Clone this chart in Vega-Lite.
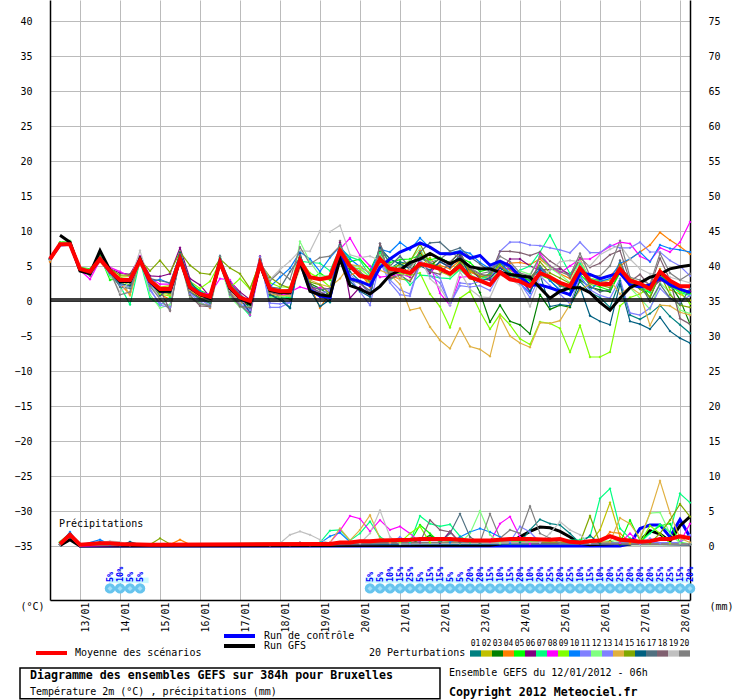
{
"$schema":"https://vega.github.io/schema/vega-lite/v6.json",
"width":640,"height":600,
"autosize":{"type":"none"},
"padding":{"left":50,"top":0,"right":50,"bottom":100},
"background":"white",
"title":{"text":"Diagramme des ensembles GEFS sur 384h pour Bruxelles","subtitle":"Température 2m (°C) , précipitations (mm)","orient":"bottom","anchor":"start","frame":"group","dx":-20,"offset":-29,"font":"DejaVu Sans Mono","fontSize":11.6,"fontWeight":"bold","color":"black","subtitleFont":"DejaVu Sans Mono","subtitleFontSize":10,"subtitleColor":"black","subtitlePadding":5},
"datasets":{
"t":[
{"h":0,"p1":5.9,"p2":6,"p3":6.1,"p4":5.6,"p5":6,"p6":6,"p7":6.1,"p8":5.9,"p9":6,"p10":6,"p11":5.9,"p12":6,"p13":6,"p14":5.8,"p15":6,"p16":5.9,"p17":6,"p18":6,"p19":5.9,"p20":6,"ctl":6,"moy":6},
{"h":6,"p1":8,"p2":8.1,"p3":8.3,"p4":8,"p5":8.4,"p6":8.1,"p7":8.2,"p8":8,"p9":8.3,"p10":8.2,"p11":8,"p12":8.3,"p13":8.1,"p14":8,"p15":8.2,"p16":8.1,"p17":8,"p18":8,"p19":8.1,"p20":8.2,"ctl":8,"gfs":9.4,"moy":8.1},
{"h":12,"p1":8.2,"p2":8,"p3":8.5,"p4":8,"p5":8.6,"p6":8.1,"p7":8.4,"p8":8.1,"p9":8.5,"p10":8.1,"p11":8,"p12":8.6,"p13":8,"p14":8.1,"p15":8.2,"p16":8,"p17":8.1,"p18":8.1,"p19":8,"p20":8.3,"ctl":8.1,"gfs":8.4,"moy":8.1},
{"h":18,"p1":4.5,"p2":4.6,"p3":4.7,"p4":4.4,"p5":4.8,"p6":4.6,"p7":4.5,"p8":4.4,"p9":4.7,"p10":4.6,"p11":4.5,"p12":4.7,"p13":4.5,"p14":4.4,"p15":4.6,"p16":4.5,"p17":4.6,"p18":4.6,"p19":4.5,"p20":4.7,"ctl":4.5,"gfs":4.3,"moy":4.6},
{"h":24,"p1":4,"p2":4.3,"p3":4.5,"p4":4,"p5":4.6,"p6":3.8,"p7":4.3,"p8":3.1,"p9":4.2,"p10":3.9,"p11":3.7,"p12":4.5,"p13":3.8,"p14":4.2,"p15":4.3,"p16":3.8,"p17":4,"p18":3.6,"p19":4,"p20":4.4,"ctl":4.1,"gfs":3.9,"moy":4.2},
{"h":30,"p1":6,"p2":6.3,"p3":6.5,"p4":5.6,"p5":6.4,"p6":6.2,"p7":6,"p8":5.8,"p9":6.3,"p10":6.1,"p11":5.8,"p12":6.2,"p13":5.9,"p14":6,"p15":6.2,"p16":5.9,"p17":6,"p18":5.9,"p19":6.1,"p20":6.3,"ctl":6,"gfs":7.2,"moy":6},
{"h":36,"p1":4,"p2":4.5,"p3":4.3,"p4":4,"p5":3,"p6":4.6,"p7":3.7,"p8":4.8,"p9":3.9,"p10":4.3,"p11":4,"p12":3.4,"p13":3.8,"p14":4.4,"p15":4.6,"p16":4,"p17":4.2,"p18":4.5,"p19":4.1,"p20":4.3,"ctl":4.2,"gfs":4.4,"moy":4.3},
{"h":42,"p1":2.6,"p2":3.4,"p3":3,"p4":2.5,"p5":3.3,"p6":4,"p7":2.2,"p8":4.2,"p9":3,"p10":3.1,"p11":2.4,"p12":2.6,"p13":2.3,"p14":3.3,"p15":3.7,"p16":2.5,"p17":2,"p18":2.9,"p19":1.2,"p20":0.9,"ctl":2.9,"gfs":2.8,"moy":3},
{"h":48,"p1":2.8,"p2":3.5,"p3":2.6,"p4":0.9,"p5":3,"p6":3.8,"p7":-0.5,"p8":3.5,"p9":2.2,"p10":3.2,"p11":2,"p12":1.9,"p13":2.1,"p14":0.8,"p15":3.7,"p16":2.2,"p17":1.8,"p18":2.6,"p19":2.9,"p20":1.3,"ctl":2.9,"gfs":2.8,"moy":3},
{"h":54,"p1":5.7,"p2":6,"p3":6.1,"p4":5.6,"p5":6.2,"p6":6.3,"p7":5.8,"p8":6.4,"p9":5.9,"p10":6,"p11":6,"p12":6.1,"p13":5.8,"p14":6,"p15":5.9,"p16":6.2,"p17":5.8,"p18":6.3,"p19":7.2,"p20":5.9,"ctl":5.8,"gfs":6,"moy":5.8},
{"h":60,"p1":3.1,"p2":3.3,"p3":2.6,"p4":2.8,"p5":3.4,"p6":3.6,"p7":0.4,"p8":3.3,"p9":2.2,"p10":2.7,"p11":1.5,"p12":0.9,"p13":1.8,"p14":3,"p15":4.3,"p16":2.4,"p17":3.2,"p18":2.9,"p19":2.5,"p20":2.1,"ctl":2.7,"gfs":2.8,"moy":2.9},
{"h":66,"p1":1.9,"p2":2,"p3":1.2,"p4":1,"p5":1.5,"p6":3.5,"p7":-0.6,"p8":2.4,"p9":1,"p10":3.1,"p11":-0.3,"p12":-1,"p13":-0.6,"p14":1.3,"p15":5.8,"p16":0.7,"p17":2.9,"p18":1.7,"p19":0.5,"p20":0.3,"ctl":1.4,"gfs":1.4,"moy":1.7},
{"h":72,"p1":1.6,"p2":2.2,"p3":1.1,"p4":0.2,"p5":0.9,"p6":3.9,"p7":0.5,"p8":2.4,"p9":0.7,"p10":2.5,"p11":-0.6,"p12":-0.5,"p13":-0.9,"p14":0.9,"p15":4.1,"p16":2.1,"p17":2.6,"p18":-1.4,"p19":0.2,"p20":-1.3,"ctl":1.4,"gfs":1.4,"moy":1.7},
{"h":78,"p1":6.8,"p2":6,"p3":6.5,"p4":5.8,"p5":6.4,"p6":7.6,"p7":6.2,"p8":6,"p9":6.2,"p10":6.6,"p11":5.9,"p12":5.8,"p13":6.1,"p14":6,"p15":7,"p16":6.9,"p17":6.5,"p18":6.7,"p19":5.8,"p20":6.3,"ctl":6,"gfs":6,"moy":6},
{"h":84,"p1":2.4,"p2":2,"p3":1.5,"p4":1.4,"p5":2.5,"p6":3.2,"p7":1.3,"p8":2,"p9":2.8,"p10":2.2,"p11":1,"p12":0.7,"p13":1.2,"p14":1.5,"p15":5.1,"p16":2.8,"p17":1.3,"p18":0.8,"p19":1.7,"p20":0.4,"ctl":1.9,"gfs":1.9,"moy":2},
{"h":90,"p1":0.7,"p2":1.2,"p3":0.4,"p4":0.7,"p5":1.5,"p6":2.3,"p7":0.2,"p8":1.2,"p9":1.8,"p10":1.4,"p11":-0.1,"p12":-0.3,"p13":0.2,"p14":0.8,"p15":4,"p16":1.1,"p17":0.3,"p18":-0.7,"p19":0.9,"p20":-0.4,"ctl":0.9,"gfs":0.9,"moy":1},
{"h":96,"p1":0.3,"p2":0.7,"p3":-0.2,"p4":-1,"p5":0.9,"p6":0.6,"p7":-0.3,"p8":1,"p9":2.8,"p10":0.5,"p11":-0.9,"p12":-0.8,"p13":-0.6,"p14":0.2,"p15":3.8,"p16":0.4,"p17":-0.3,"p18":-0.8,"p19":0.1,"p20":-0.7,"ctl":0.5,"gfs":0.4,"moy":0.6},
{"h":102,"p1":5.3,"p2":5.8,"p3":5.6,"p4":5.3,"p5":6.2,"p6":5.7,"p7":5.4,"p8":3.2,"p9":5.5,"p10":5.9,"p11":5.6,"p12":5.3,"p13":5.5,"p14":5.2,"p15":6,"p16":6.4,"p17":6.1,"p18":5.8,"p19":5.7,"p20":6.4,"ctl":5.5,"gfs":5.6,"moy":5.5},
{"h":108,"p1":2,"p2":2.4,"p3":1.6,"p4":1.4,"p5":2.2,"p6":2.8,"p7":1,"p8":3,"p9":1.9,"p10":1.8,"p11":0.8,"p12":0.6,"p13":1,"p14":2,"p15":4.7,"p16":1.4,"p17":2.6,"p18":1.2,"p19":1.5,"p20":0.9,"ctl":1.9,"gfs":1.8,"moy":2},
{"h":114,"p1":0.4,"p2":0.8,"p3":-0.1,"p4":-0.3,"p5":0.6,"p6":1.3,"p7":-0.5,"p8":0.9,"p9":3.2,"p10":0.7,"p11":-0.7,"p12":-0.9,"p13":-0.4,"p14":0.2,"p15":3.9,"p16":0.3,"p17":1,"p18":-0.8,"p19":-0.1,"p20":-0.6,"ctl":0.4,"gfs":0.4,"moy":0.5},
{"h":120,"p1":-1,"p2":-0.3,"p3":-0.6,"p4":-0.2,"p5":0,"p6":0.2,"p7":-2.1,"p8":-2,"p9":1.7,"p10":-0.2,"p11":-1.4,"p12":-0.8,"p13":-1.2,"p14":0.2,"p15":1.8,"p16":-1.6,"p17":-0.4,"p18":-0.9,"p19":-0.2,"p20":-1.8,"ctl":-0.1,"gfs":-0.4,"moy":0},
{"h":126,"p1":5.5,"p2":5.6,"p3":5,"p4":5.3,"p5":5.8,"p6":6.4,"p7":5.2,"p8":4.9,"p9":5.6,"p10":5.7,"p11":6.3,"p12":5.4,"p13":5.9,"p14":5.1,"p15":5.4,"p16":5.9,"p17":5.8,"p18":6.1,"p19":5.6,"p20":5.7,"ctl":5.3,"gfs":5.2,"moy":5.3},
{"h":132,"p1":1.4,"p2":2,"p3":0.9,"p4":1.2,"p5":1.6,"p6":1,"p7":0.6,"p8":2.3,"p9":2.6,"p10":2,"p11":-0.9,"p12":0.5,"p13":-0.3,"p14":1,"p15":3.4,"p16":0.9,"p17":2,"p18":1.3,"p19":3.1,"p20":2.9,"ctl":1.6,"gfs":1.5,"moy":1.7},
{"h":138,"p1":0.6,"p2":1.6,"p3":0.5,"p4":1.2,"p5":1.1,"p6":0.9,"p7":0.3,"p8":0.7,"p9":2,"p10":3.4,"p11":-0.9,"p12":0.6,"p13":-0.4,"p14":0.8,"p15":2.4,"p16":0.2,"p17":1.8,"p18":1,"p19":4.5,"p20":4.2,"ctl":1.3,"gfs":1.2,"moy":1.4},
{"h":144,"p1":-1,"p2":1.6,"p3":0.3,"p4":0.9,"p5":0.4,"p6":1,"p7":0.6,"p8":1.3,"p9":2,"p10":4.7,"p11":-0.2,"p12":0.8,"p13":-0.2,"p14":0.7,"p15":1.8,"p16":-1,"p17":4.2,"p18":1.8,"p19":5.7,"p20":3.1,"ctl":1.2,"gfs":1.2,"moy":1.4},
{"h":150,"p1":6.2,"p2":6.4,"p3":5.8,"p4":5.5,"p5":6.3,"p6":6.6,"p7":5.7,"p8":2,"p9":6,"p10":7,"p11":6,"p12":8.5,"p13":6.7,"p14":4.7,"p15":6.2,"p16":6.8,"p17":6.2,"p18":6.5,"p19":7.2,"p20":7.7,"ctl":5.6,"gfs":5.6,"moy":5.8},
{"h":156,"p1":2.3,"p2":3.4,"p3":2.5,"p4":2.3,"p5":3,"p6":2.4,"p7":5.5,"p8":1.6,"p9":4,"p10":6,"p11":1.6,"p12":5.6,"p13":1.8,"p14":3,"p15":2.7,"p16":1.6,"p17":2.2,"p18":1.9,"p19":7.1,"p20":5.3,"ctl":1.6,"gfs":1.4,"moy":3.4},
{"h":162,"p1":1,"p2":3,"p3":1.8,"p4":-1,"p5":4,"p6":0.6,"p7":5.4,"p8":1.9,"p9":3.2,"p10":4.2,"p11":0.8,"p12":3.6,"p13":1.2,"p14":2.4,"p15":2.3,"p16":-0.8,"p17":1.6,"p18":1.3,"p19":10,"p20":6.2,"ctl":0.7,"gfs":0.9,"moy":3.1},
{"h":168,"p1":-0.2,"p2":3.1,"p3":0.8,"p4":1.2,"p5":3,"p6":0.9,"p7":4.3,"p8":1.7,"p9":2,"p10":6.2,"p11":1.6,"p12":3.6,"p13":1.4,"p14":2,"p15":1,"p16":0.2,"p17":1.8,"p18":0.6,"p19":9.9,"p20":6.4,"ctl":0.5,"gfs":0.7,"moy":3.4},
{"h":174,"p1":7.6,"p2":6.8,"p3":7.2,"p4":6.6,"p5":7.7,"p6":8.4,"p7":7.6,"p8":7.4,"p9":7.1,"p10":7.8,"p11":6.5,"p12":7.5,"p13":6.6,"p14":3.2,"p15":7.3,"p16":8,"p17":7.2,"p18":8.6,"p19":10.8,"p20":7.9,"ctl":6.8,"gfs":6,"moy":7.2},
{"h":180,"p1":4.2,"p2":5,"p3":4.6,"p4":3.7,"p5":5.6,"p6":0.4,"p7":6.3,"p8":9,"p9":4.8,"p10":6,"p11":3.3,"p12":5.2,"p13":3.8,"p14":5.2,"p15":5,"p16":2.8,"p17":3,"p18":3.3,"p19":6.6,"p20":5.2,"ctl":3.2,"gfs":2.2,"moy":5},
{"h":186,"p1":2.8,"p2":3.6,"p3":4,"p4":4.2,"p5":6,"p6":2,"p7":5.8,"p8":6.5,"p9":4.6,"p10":4.9,"p11":1.3,"p12":4.8,"p13":2.6,"p14":5,"p15":3.8,"p16":1.4,"p17":2.5,"p18":2.6,"p19":6.2,"p20":4.2,"ctl":2.8,"gfs":1.7,"moy":3.6},
{"h":192,"p1":1,"p2":2.6,"p3":2.9,"p4":2,"p5":4.4,"p6":0.8,"p7":3.6,"p8":5,"p9":3.4,"p10":4,"p11":-0.6,"p12":3.4,"p13":0.9,"p14":4,"p15":2.8,"p16":0.6,"p17":1.5,"p18":1.2,"p19":6.4,"p20":3,"ctl":2.2,"gfs":1,"moy":3.3},
{"h":198,"p1":6.2,"p2":6,"p3":7,"p4":6.5,"p5":7.4,"p6":6.6,"p7":6.9,"p8":3.4,"p9":5.2,"p10":7.4,"p11":5.6,"p12":6.6,"p13":6,"p14":4.4,"p15":6.2,"p16":7.6,"p17":8.2,"p18":8.2,"p19":5.8,"p20":7.3,"ctl":4.8,"gfs":2.1,"moy":6},
{"h":204,"p1":4.6,"p2":5.1,"p3":4,"p4":3.7,"p5":5.5,"p6":3.3,"p7":3,"p8":3.6,"p9":4.3,"p10":7,"p11":2.6,"p12":4.8,"p13":3,"p14":3.8,"p15":4.6,"p16":6,"p17":5,"p18":3.2,"p19":4.9,"p20":4.1,"ctl":6,"gfs":3.7,"moy":4.6},
{"h":210,"p1":5.6,"p2":3.2,"p3":5.3,"p4":3.1,"p5":5.9,"p6":4.2,"p7":4,"p8":3.8,"p9":3.9,"p10":8.4,"p11":0.9,"p12":5,"p13":1.6,"p14":2.4,"p15":5.2,"p16":5.3,"p17":6.4,"p18":3.7,"p19":3,"p20":4.8,"ctl":7,"gfs":4.4,"moy":4.4},
{"h":216,"p1":5.2,"p2":2.9,"p3":3.8,"p4":4.8,"p5":6,"p6":3.4,"p7":2.3,"p8":3.5,"p9":3.7,"p10":7.3,"p11":0.7,"p12":5.8,"p13":1,"p14":-1.3,"p15":5.6,"p16":4.6,"p17":4.8,"p18":2.8,"p19":4.6,"p20":5,"ctl":7.6,"gfs":5.5,"moy":4},
{"h":222,"p1":6.2,"p2":4.9,"p3":6.9,"p4":7.2,"p5":6.5,"p6":5.9,"p7":3.7,"p8":5.5,"p9":4,"p10":9,"p11":5.4,"p12":7.5,"p13":5.8,"p14":-1,"p15":8.2,"p16":5,"p17":7,"p18":5.3,"p19":6.3,"p20":6.4,"ctl":8.3,"gfs":6,"moy":5.3},
{"h":228,"p1":5.4,"p2":6.2,"p3":5,"p4":4.8,"p5":5.9,"p6":4,"p7":3.6,"p8":5.2,"p9":1,"p10":7.6,"p11":4.4,"p12":4.9,"p13":3.6,"p14":-3.7,"p15":5.3,"p16":4.4,"p17":8.3,"p18":4.2,"p19":3.2,"p20":5.5,"ctl":7.7,"gfs":6.8,"moy":5},
{"h":234,"p1":4.8,"p2":4.2,"p3":6.1,"p4":5.1,"p5":6.2,"p6":5.6,"p7":3.3,"p8":1.1,"p9":-0.8,"p10":6.8,"p11":3.3,"p12":4.6,"p13":2.6,"p14":-5.6,"p15":4.9,"p16":5.6,"p17":8.4,"p18":3.8,"p19":1.9,"p20":6,"ctl":6.8,"gfs":6,"moy":4.6},
{"h":240,"p1":4,"p2":3.6,"p3":5.5,"p4":4.6,"p5":5.4,"p6":4.9,"p7":3.2,"p8":-0.6,"p9":-3.8,"p10":6.9,"p11":-0.6,"p12":3.5,"p13":-0.4,"p14":-6.8,"p15":4,"p16":4.8,"p17":7.1,"p18":5.6,"p19":-0.5,"p20":7,"ctl":6.7,"gfs":5.3,"moy":3.9},
{"h":246,"p1":5.5,"p2":4.5,"p3":7,"p4":5.8,"p5":6.2,"p6":6.4,"p7":4.5,"p8":3.4,"p9":0.4,"p10":7.2,"p11":2.6,"p12":4.8,"p13":2.2,"p14":-3.9,"p15":5.6,"p16":6.6,"p17":7.6,"p18":6.8,"p19":4.2,"p20":6.2,"ctl":7,"gfs":6,"moy":5},
{"h":252,"p1":3.6,"p2":4.3,"p3":4,"p4":4.1,"p5":5.5,"p6":4.6,"p7":3.2,"p8":3.5,"p9":1.4,"p10":6.8,"p11":2.4,"p12":3.8,"p13":2,"p14":-6.5,"p15":4.5,"p16":3.5,"p17":6.3,"p18":4.6,"p19":1.7,"p20":4.8,"ctl":6.1,"gfs":4.9,"moy":3.4},
{"h":258,"p1":3,"p2":3.4,"p3":1.2,"p4":3.6,"p5":4.2,"p6":3.2,"p7":3.1,"p8":3,"p9":-1.5,"p10":5.5,"p11":2.8,"p12":3.1,"p13":2.2,"p14":-6.9,"p15":3.5,"p16":2.8,"p17":5.3,"p18":3.8,"p19":0.6,"p20":3.9,"ctl":6.5,"gfs":4.6,"moy":2.9},
{"h":264,"p1":4,"p2":3.6,"p3":-3,"p4":3.2,"p5":4.6,"p6":3,"p7":3.8,"p8":3.4,"p9":-4,"p10":4.6,"p11":2.3,"p12":3.3,"p13":1.5,"p14":-7.9,"p15":3.8,"p16":3.3,"p17":4.2,"p18":3.6,"p19":0.5,"p20":4.2,"ctl":5.1,"gfs":4.6,"moy":2.3},
{"h":270,"p1":5.5,"p2":5,"p3":-0.6,"p4":4.8,"p5":4.9,"p6":4.2,"p7":4.2,"p8":4.8,"p9":-1.9,"p10":5.6,"p11":7.1,"p12":4,"p13":4,"p14":-2.2,"p15":5.2,"p16":4.7,"p17":5.6,"p18":7.1,"p19":3.7,"p20":6.4,"ctl":5.7,"gfs":4.1,"moy":4.1},
{"h":276,"p1":4,"p2":4.4,"p3":-2.9,"p4":5.4,"p5":4,"p6":6,"p7":3.5,"p8":4.6,"p9":-3.4,"p10":3.9,"p11":8.4,"p12":3.1,"p13":3.4,"p14":-5,"p15":3.7,"p16":3.8,"p17":4.6,"p18":7.1,"p19":3.2,"p20":5.6,"ctl":5,"gfs":3.8,"moy":3.1},
{"h":282,"p1":3.2,"p2":3.6,"p3":-3.4,"p4":5.5,"p5":3.8,"p6":6,"p7":4.4,"p8":3.2,"p9":-5.4,"p10":2.5,"p11":8.4,"p12":4.3,"p13":2.6,"p14":-6,"p15":3.2,"p16":3.3,"p17":3.6,"p18":6.9,"p19":2.2,"p20":4,"ctl":3.5,"gfs":3.6,"moy":2.8},
{"h":288,"p1":3,"p2":3.3,"p3":-4.7,"p4":5.2,"p5":2.8,"p6":5,"p7":5,"p8":1.2,"p9":-6.2,"p10":1.1,"p11":8,"p12":3.8,"p13":0.5,"p14":-6.6,"p15":2.4,"p16":1.4,"p17":3.2,"p18":6.5,"p19":-0.8,"p20":3.6,"ctl":2.3,"gfs":3.4,"moy":2.1},
{"h":294,"p1":4.6,"p2":5,"p3":0.9,"p4":6,"p5":3.7,"p6":4.4,"p7":7,"p8":6.8,"p9":-3,"p10":4.9,"p11":7.9,"p12":6.4,"p13":3.6,"p14":-3.1,"p15":5.6,"p16":3.8,"p17":5,"p18":7,"p19":3.2,"p20":6.4,"ctl":2.3,"gfs":1.9,"moy":4},
{"h":300,"p1":2.9,"p2":3.6,"p3":-1.2,"p4":4.8,"p5":3.1,"p6":4.5,"p7":9.4,"p8":5,"p9":-3.2,"p10":2.9,"p11":7.6,"p12":4.7,"p13":2.2,"p14":-3.2,"p15":4,"p16":-0.8,"p17":3.4,"p18":5.7,"p19":4.4,"p20":5,"ctl":1.9,"gfs":0.4,"moy":3.4},
{"h":306,"p1":1.5,"p2":2.7,"p3":-0.6,"p4":3.9,"p5":2.3,"p6":4.6,"p7":6.6,"p8":4,"p9":-3.9,"p10":1.6,"p11":7.3,"p12":3.8,"p13":1,"p14":-2.8,"p15":3.3,"p16":-0.5,"p17":2.1,"p18":4.8,"p19":5.6,"p20":4.2,"ctl":1.4,"gfs":1.4,"moy":2.6},
{"h":312,"p1":0.8,"p2":2.3,"p3":-0.9,"p4":3.2,"p5":1.6,"p6":3.8,"p7":3.9,"p8":5,"p9":-7.3,"p10":0.8,"p11":6.9,"p12":2.6,"p13":-0.4,"p14":-0.5,"p15":2.5,"p16":-0.7,"p17":1.8,"p18":3.4,"p19":5.8,"p20":3.6,"ctl":0.9,"gfs":1.9,"moy":2.1},
{"h":318,"p1":2.8,"p2":4.6,"p3":3,"p4":6,"p5":3.8,"p6":5.5,"p7":5.4,"p8":6,"p9":-3.5,"p10":3.6,"p11":8.4,"p12":5.7,"p13":3.4,"p14":1.6,"p15":4.8,"p16":2,"p17":4.7,"p18":6.2,"p19":5.6,"p20":6.8,"ctl":4,"gfs":1.9,"moy":4.7},
{"h":324,"p1":1.2,"p2":3.2,"p3":2,"p4":3,"p5":2.4,"p6":2.8,"p7":3.2,"p8":6,"p9":-8,"p10":1.6,"p11":6.9,"p12":3.2,"p13":1.6,"p14":2.4,"p15":2.6,"p16":-2.1,"p17":2.1,"p18":4.8,"p19":5,"p20":3.6,"ctl":3.8,"gfs":1.2,"moy":2.9},
{"h":330,"p1":0.5,"p2":3,"p3":1.6,"p4":3,"p5":2,"p6":2.8,"p7":2.9,"p8":6.9,"p9":-8,"p10":2.8,"p11":6.9,"p12":2.6,"p13":0.8,"p14":2.6,"p15":2.3,"p16":-2.9,"p17":1.3,"p18":5.4,"p19":6.6,"p20":3.6,"ctl":3.2,"gfs":-0.2,"moy":2.4},
{"h":336,"p1":-0.9,"p2":2.4,"p3":1.3,"p4":3.6,"p5":1.5,"p6":2.6,"p7":3,"p8":7.8,"p9":-7.3,"p10":3.2,"p11":8,"p12":2.2,"p13":0.4,"p14":3,"p15":1.9,"p16":-3.4,"p17":1.6,"p18":6.6,"p19":7.4,"p20":5,"ctl":3.6,"gfs":-1.3,"moy":2.4},
{"h":342,"p1":2.9,"p2":4.8,"p3":4.3,"p4":5,"p5":4,"p6":4.6,"p7":4.2,"p8":8.4,"p9":-0.7,"p10":5.4,"p11":7.6,"p12":4.8,"p13":3.2,"p14":1,"p15":5.2,"p16":2.4,"p17":5.8,"p18":7.2,"p19":8,"p20":8.6,"ctl":4,"gfs":0.4,"moy":4.6},
{"h":348,"p1":-2,"p2":3.3,"p3":2.4,"p4":6,"p5":2.4,"p6":2.8,"p7":2.6,"p8":8.2,"p9":0.5,"p10":6,"p11":7.6,"p12":1.9,"p13":-1.7,"p14":2,"p15":2.6,"p16":-2.9,"p17":2.2,"p18":2.8,"p19":6,"p20":3.4,"ctl":2.3,"gfs":1.9,"moy":2.9},
{"h":354,"p1":-2.6,"p2":2.6,"p3":2.4,"p4":7,"p5":1.8,"p6":2.4,"p7":2.1,"p8":6.4,"p9":1,"p10":7,"p11":8.4,"p12":0.4,"p13":-2,"p14":1,"p15":1.7,"p16":-3.3,"p17":2.5,"p18":3.8,"p19":4.6,"p20":3,"ctl":2,"gfs":2.6,"moy":2.5},
{"h":360,"p1":-1.8,"p2":1.6,"p3":0.5,"p4":8,"p5":1.2,"p6":1.7,"p7":1.3,"p8":5.7,"p9":2,"p10":5.6,"p11":7,"p12":-1.2,"p13":-1,"p14":-3.5,"p15":0.6,"p16":-4,"p17":-0.1,"p18":2.1,"p19":3.9,"p20":2.4,"ctl":2.3,"gfs":3.4,"moy":1.7},
{"h":366,"p1":-0.6,"p2":4.6,"p3":3.8,"p4":9.8,"p5":4.2,"p6":2.9,"p7":3.4,"p8":7.6,"p9":3.2,"p10":8,"p11":7,"p12":2.6,"p13":1.8,"p14":-0.6,"p15":3.8,"p16":-2.3,"p17":2.4,"p18":6.1,"p19":3.8,"p20":6.8,"ctl":3.3,"gfs":3.8,"moy":4.2},
{"h":372,"p1":-2.2,"p2":1.6,"p3":2.4,"p4":8.7,"p5":2,"p6":2.7,"p7":2.2,"p8":7,"p9":2.2,"p10":7.5,"p11":5.8,"p12":1.2,"p13":0.4,"p14":-0.7,"p15":0.9,"p16":-4.3,"p17":0.4,"p18":3,"p19":3.4,"p20":4,"ctl":2.3,"gfs":4.6,"moy":2.9},
{"h":378,"p1":-3.4,"p2":1,"p3":0.2,"p4":7.8,"p5":1.4,"p6":1.6,"p7":1.2,"p8":8.4,"p9":1.4,"p10":7.3,"p11":5,"p12":-1.3,"p13":-0.1,"p14":-1.6,"p15":-0.6,"p16":-5.3,"p17":-0.5,"p18":-2.5,"p19":3,"p20":3,"ctl":1.7,"gfs":4.9,"moy":2.1},
{"h":384,"p1":-4.6,"p2":0.1,"p3":-3.3,"p4":6.7,"p5":1,"p6":1.4,"p7":0.8,"p8":11.3,"p9":-0.4,"p10":7,"p11":3.6,"p12":-1.8,"p13":0.8,"p14":-2,"p15":-0.9,"p16":-6,"p17":1.8,"p18":-3.3,"p19":2.6,"p20":3.9,"ctl":1.2,"gfs":5.1,"moy":2.1}
],
"p":[
{"s":"p1","h":6,"v":0.2},{"s":"p1","h":12,"v":1.5},{"s":"p1","h":18,"v":0.1},{"s":"p1","h":30,"v":0.6},{"s":"p1","h":42,"v":0.1},{"s":"p1","h":282,"v":0.5},{"s":"p1","h":288,"v":2.3},{"s":"p1","h":294,"v":3.8},{"s":"p1","h":300,"v":3.2},{"s":"p1","h":306,"v":3},{"s":"p1","h":312,"v":1.8},{"s":"p1","h":318,"v":0.4},{"s":"p1","h":384,"v":0.2},
{"s":"p2","h":6,"v":0.2},{"s":"p2","h":12,"v":1.4},{"s":"p2","h":18,"v":0.1},{"s":"p2","h":324,"v":0.5},{"s":"p2","h":330,"v":2.3},{"s":"p2","h":336,"v":6.2},{"s":"p2","h":342,"v":1.3},{"s":"p2","h":348,"v":0.4},{"s":"p2","h":384,"v":0.3},
{"s":"p3","h":6,"v":0.5},{"s":"p3","h":12,"v":1.8},{"s":"p3","h":18,"v":0.1},{"s":"p3","h":216,"v":0.3},{"s":"p3","h":228,"v":1.5},{"s":"p3","h":234,"v":0.8},{"s":"p3","h":330,"v":0.4},{"s":"p3","h":336,"v":0.7},{"s":"p3","h":342,"v":0.2},{"s":"p3","h":384,"v":0.2},
{"s":"p4","h":6,"v":0.2},{"s":"p4","h":12,"v":1.6},{"s":"p4","h":18,"v":0.1},{"s":"p4","h":72,"v":0.2},{"s":"p4","h":78,"v":0.9},{"s":"p4","h":84,"v":0.2},{"s":"p4","h":330,"v":0.4},{"s":"p4","h":336,"v":2},{"s":"p4","h":342,"v":1.8},{"s":"p4","h":348,"v":0.5},{"s":"p4","h":384,"v":0.2},
{"s":"p5","h":6,"v":0.6},{"s":"p5","h":12,"v":1.8},{"s":"p5","h":18,"v":0.1},{"s":"p5","h":216,"v":0.5},{"s":"p5","h":222,"v":3},{"s":"p5","h":228,"v":1.8},{"s":"p5","h":234,"v":0.5},{"s":"p5","h":252,"v":0.9},{"s":"p5","h":258,"v":0.4},{"s":"p5","h":342,"v":0.4},{"s":"p5","h":348,"v":3.7},{"s":"p5","h":354,"v":0.8},{"s":"p5","h":366,"v":2.9},{"s":"p5","h":372,"v":3.2},{"s":"p5","h":378,"v":0.5},{"s":"p5","h":384,"v":0.3},
{"s":"p6","h":6,"v":0.2},{"s":"p6","h":12,"v":1.5},{"s":"p6","h":18,"v":0.1},{"s":"p6","h":234,"v":0.4},{"s":"p6","h":240,"v":2.1},{"s":"p6","h":246,"v":0.5},{"s":"p6","h":384,"v":0.2},
{"s":"p7","h":6,"v":0.5},{"s":"p7","h":12,"v":1.7},{"s":"p7","h":18,"v":0.1},{"s":"p7","h":162,"v":0.5},{"s":"p7","h":168,"v":2.2},{"s":"p7","h":174,"v":2.3},{"s":"p7","h":180,"v":0.8},{"s":"p7","h":186,"v":1.8},{"s":"p7","h":192,"v":3.5},{"s":"p7","h":198,"v":1.3},{"s":"p7","h":204,"v":0.5},{"s":"p7","h":210,"v":0.3},{"s":"p7","h":216,"v":0.5},{"s":"p7","h":222,"v":4.3},{"s":"p7","h":228,"v":3.2},{"s":"p7","h":234,"v":2.8},{"s":"p7","h":240,"v":3.1},{"s":"p7","h":246,"v":1.4},{"s":"p7","h":252,"v":0.5},{"s":"p7","h":318,"v":0.9},{"s":"p7","h":324,"v":1.3},{"s":"p7","h":330,"v":6.8},{"s":"p7","h":336,"v":8.2},{"s":"p7","h":342,"v":2.5},{"s":"p7","h":348,"v":1.1},{"s":"p7","h":354,"v":0.5},{"s":"p7","h":360,"v":1.8},{"s":"p7","h":366,"v":3.1},{"s":"p7","h":372,"v":2},{"s":"p7","h":378,"v":7.5},{"s":"p7","h":384,"v":6.2},
{"s":"p8","h":6,"v":0.2},{"s":"p8","h":12,"v":1.4},{"s":"p8","h":18,"v":0},{"s":"p8","h":168,"v":0.5},{"s":"p8","h":174,"v":2.2},{"s":"p8","h":180,"v":4.3},{"s":"p8","h":186,"v":3.9},{"s":"p8","h":192,"v":2.1},{"s":"p8","h":198,"v":3.7},{"s":"p8","h":204,"v":2.3},{"s":"p8","h":210,"v":2.8},{"s":"p8","h":216,"v":1.8},{"s":"p8","h":222,"v":0.5},{"s":"p8","h":264,"v":0.6},{"s":"p8","h":270,"v":3.2},{"s":"p8","h":276,"v":4.2},{"s":"p8","h":282,"v":1.3},{"s":"p8","h":288,"v":0.3},{"s":"p8","h":342,"v":0.4},{"s":"p8","h":348,"v":1.8},{"s":"p8","h":354,"v":0.4},{"s":"p8","h":378,"v":0.5},{"s":"p8","h":384,"v":3.2},
{"s":"p9","h":6,"v":0.5},{"s":"p9","h":12,"v":1.6},{"s":"p9","h":18,"v":0.1},{"s":"p9","h":210,"v":0.5},{"s":"p9","h":216,"v":1.8},{"s":"p9","h":222,"v":2.8},{"s":"p9","h":228,"v":0.5},{"s":"p9","h":354,"v":0.4},{"s":"p9","h":360,"v":2.9},{"s":"p9","h":366,"v":1.8},{"s":"p9","h":372,"v":0.4},{"s":"p9","h":384,"v":0.3},
{"s":"p10","h":6,"v":0.3},{"s":"p10","h":12,"v":2},{"s":"p10","h":18,"v":0.1},{"s":"p10","h":30,"v":0.9},{"s":"p10","h":36,"v":0.2},{"s":"p10","h":162,"v":0.4},{"s":"p10","h":168,"v":1.4},{"s":"p10","h":174,"v":1.9},{"s":"p10","h":180,"v":0.6},{"s":"p10","h":240,"v":0.5},{"s":"p10","h":246,"v":1.3},{"s":"p10","h":252,"v":2},{"s":"p10","h":258,"v":2.5},{"s":"p10","h":264,"v":2},{"s":"p10","h":270,"v":1.3},{"s":"p10","h":276,"v":0.4},{"s":"p10","h":384,"v":0.2},
{"s":"p11","h":6,"v":0.2},{"s":"p11","h":12,"v":1.5},{"s":"p11","h":18,"v":0.1},{"s":"p11","h":204,"v":0.4},{"s":"p11","h":210,"v":1.3},{"s":"p11","h":216,"v":0.3},{"s":"p11","h":276,"v":0.6},{"s":"p11","h":282,"v":2.8},{"s":"p11","h":288,"v":2},{"s":"p11","h":294,"v":0.5},{"s":"p11","h":378,"v":0.5},{"s":"p11","h":384,"v":1.6},
{"s":"p12","h":6,"v":0.5},{"s":"p12","h":12,"v":1.7},{"s":"p12","h":18,"v":0.1},{"s":"p12","h":246,"v":0.4},{"s":"p12","h":252,"v":1.8},{"s":"p12","h":258,"v":5},{"s":"p12","h":264,"v":1.6},{"s":"p12","h":270,"v":0.4},{"s":"p12","h":354,"v":0.8},{"s":"p12","h":360,"v":4.7},{"s":"p12","h":366,"v":4.8},{"s":"p12","h":372,"v":1.8},{"s":"p12","h":378,"v":0.4},{"s":"p12","h":384,"v":0.3},
{"s":"p13","h":6,"v":0.2},{"s":"p13","h":12,"v":1.5},{"s":"p13","h":18,"v":0.1},{"s":"p13","h":354,"v":0.3},{"s":"p13","h":360,"v":1.1},{"s":"p13","h":366,"v":0.4},{"s":"p13","h":384,"v":0.3},
{"s":"p14","h":6,"v":0.2},{"s":"p14","h":12,"v":1.4},{"s":"p14","h":18,"v":0.1},{"s":"p14","h":168,"v":0.5},{"s":"p14","h":174,"v":2.5},{"s":"p14","h":180,"v":0.8},{"s":"p14","h":186,"v":2.3},{"s":"p14","h":192,"v":4.4},{"s":"p14","h":198,"v":1.1},{"s":"p14","h":204,"v":0.5},{"s":"p14","h":336,"v":0.6},{"s":"p14","h":342,"v":4},{"s":"p14","h":348,"v":3.2},{"s":"p14","h":354,"v":1.1},{"s":"p14","h":360,"v":4.7},{"s":"p14","h":366,"v":9.3},{"s":"p14","h":372,"v":4.7},{"s":"p14","h":378,"v":1.1},{"s":"p14","h":384,"v":0.5},
{"s":"p15","h":6,"v":0.3},{"s":"p15","h":12,"v":1.6},{"s":"p15","h":18,"v":0.1},{"s":"p15","h":60,"v":0.2},{"s":"p15","h":66,"v":1.1},{"s":"p15","h":72,"v":0.3},{"s":"p15","h":318,"v":0.5},{"s":"p15","h":324,"v":4.3},{"s":"p15","h":330,"v":0.4},{"s":"p15","h":360,"v":0.4},{"s":"p15","h":366,"v":1.8},{"s":"p15","h":372,"v":3.7},{"s":"p15","h":378,"v":6},{"s":"p15","h":384,"v":4.2},
{"s":"p16","h":6,"v":0.2},{"s":"p16","h":12,"v":1.5},{"s":"p16","h":18,"v":0.1},{"s":"p16","h":42,"v":0.1},{"s":"p16","h":48,"v":0.6},{"s":"p16","h":54,"v":0.2},{"s":"p16","h":318,"v":0.3},{"s":"p16","h":324,"v":1.5},{"s":"p16","h":330,"v":0.3},{"s":"p16","h":384,"v":0.2},
{"s":"p17","h":6,"v":0.2},{"s":"p17","h":12,"v":1.5},{"s":"p17","h":18,"v":0.1},{"s":"p17","h":234,"v":0.5},{"s":"p17","h":240,"v":1.8},{"s":"p17","h":246,"v":4.6},{"s":"p17","h":252,"v":1.3},{"s":"p17","h":258,"v":0.4},{"s":"p17","h":384,"v":0.2},
{"s":"p18","h":6,"v":0.2},{"s":"p18","h":12,"v":1.4},{"s":"p18","h":18,"v":0.1},{"s":"p18","h":144,"v":0.1},{"s":"p18","h":150,"v":0.5},{"s":"p18","h":156,"v":0.1},{"s":"p18","h":222,"v":0.5},{"s":"p18","h":228,"v":3.7},{"s":"p18","h":234,"v":2.3},{"s":"p18","h":240,"v":2},{"s":"p18","h":246,"v":0.5},{"s":"p18","h":384,"v":0.2},
{"s":"p19","h":6,"v":0.2},{"s":"p19","h":12,"v":1.4},{"s":"p19","h":18,"v":0.1},{"s":"p19","h":36,"v":0.7},{"s":"p19","h":42,"v":0.6},{"s":"p19","h":48,"v":0.1},{"s":"p19","h":132,"v":0.1},{"s":"p19","h":138,"v":0.4},{"s":"p19","h":144,"v":1.6},{"s":"p19","h":150,"v":2.1},{"s":"p19","h":156,"v":1.6},{"s":"p19","h":162,"v":0.9},{"s":"p19","h":168,"v":0.4},{"s":"p19","h":186,"v":0.4},{"s":"p19","h":192,"v":1.8},{"s":"p19","h":198,"v":5.1},{"s":"p19","h":204,"v":1.3},{"s":"p19","h":210,"v":0.3},{"s":"p19","h":294,"v":0.5},{"s":"p19","h":300,"v":1.8},{"s":"p19","h":306,"v":3.5},{"s":"p19","h":312,"v":2.3},{"s":"p19","h":318,"v":1.6},{"s":"p19","h":324,"v":0.4},{"s":"p19","h":384,"v":0.3},
{"s":"p20","h":6,"v":0.2},{"s":"p20","h":12,"v":1.5},{"s":"p20","h":18,"v":0.1},{"s":"p20","h":258,"v":0.5},{"s":"p20","h":264,"v":4.6},{"s":"p20","h":270,"v":1.1},{"s":"p20","h":276,"v":2.3},{"s":"p20","h":282,"v":1.8},{"s":"p20","h":288,"v":5.7},{"s":"p20","h":294,"v":1.8},{"s":"p20","h":300,"v":1.1},{"s":"p20","h":306,"v":0.4},{"s":"p20","h":384,"v":0.3},
{"s":"ctl","h":6,"v":0.1},{"s":"ctl","h":12,"v":1.5},{"s":"ctl","h":18,"v":0},{"s":"ctl","h":342,"v":0},{"s":"ctl","h":348,"v":0.3},{"s":"ctl","h":354,"v":2.5},{"s":"ctl","h":360,"v":3},{"s":"ctl","h":366,"v":3},{"s":"ctl","h":372,"v":1.3},{"s":"ctl","h":378,"v":3.8},{"s":"ctl","h":384,"v":1.3},
{"s":"gfs","h":6,"v":0.1},{"s":"gfs","h":12,"v":0.9},{"s":"gfs","h":18,"v":0},{"s":"gfs","h":264,"v":0.1},{"s":"gfs","h":276,"v":0.5},{"s":"gfs","h":282,"v":1.3},{"s":"gfs","h":288,"v":2.1},{"s":"gfs","h":294,"v":2.7},{"s":"gfs","h":300,"v":2.6},{"s":"gfs","h":306,"v":2.1},{"s":"gfs","h":312,"v":1.3},{"s":"gfs","h":318,"v":0.4},{"s":"gfs","h":324,"v":0.2},{"s":"gfs","h":342,"v":0.4},{"s":"gfs","h":348,"v":0.3},{"s":"gfs","h":354,"v":0.7},{"s":"gfs","h":360,"v":2.2},{"s":"gfs","h":366,"v":1.7},{"s":"gfs","h":372,"v":0.7},{"s":"gfs","h":378,"v":2.9},{"s":"gfs","h":384,"v":4.2},
{"s":"moy","h":6,"v":0.3},{"s":"moy","h":12,"v":1.6},{"s":"moy","h":18,"v":0.2},{"s":"moy","h":24,"v":0.3},{"s":"moy","h":30,"v":0.4},{"s":"moy","h":36,"v":0.4},{"s":"moy","h":42,"v":0.3},{"s":"moy","h":60,"v":0.2},{"s":"moy","h":162,"v":0.3},{"s":"moy","h":168,"v":0.3},{"s":"moy","h":174,"v":0.5},{"s":"moy","h":180,"v":0.5},{"s":"moy","h":186,"v":0.7},{"s":"moy","h":192,"v":0.7},{"s":"moy","h":198,"v":0.8},{"s":"moy","h":216,"v":0.9},{"s":"moy","h":222,"v":1},{"s":"moy","h":240,"v":1},{"s":"moy","h":252,"v":0.8},{"s":"moy","h":264,"v":0.8},{"s":"moy","h":276,"v":1},{"s":"moy","h":288,"v":1},{"s":"moy","h":300,"v":0.9},{"s":"moy","h":306,"v":1},{"s":"moy","h":312,"v":0.6},{"s":"moy","h":318,"v":0.5},{"s":"moy","h":324,"v":0.7},{"s":"moy","h":330,"v":0.8},{"s":"moy","h":336,"v":1.4},{"s":"moy","h":342,"v":0.9},{"s":"moy","h":348,"v":0.8},{"s":"moy","h":354,"v":0.6},{"s":"moy","h":360,"v":0.7},{"s":"moy","h":366,"v":1},{"s":"moy","h":372,"v":1},{"s":"moy","h":378,"v":1.4},{"s":"moy","h":384,"v":1.1}
],
"neige":[
{"h":36,"pct":"5%"},{"h":42,"pct":"10%"},{"h":48,"pct":"5%"},{"h":54,"pct":"5%"},
{"h":192,"pct":"5%"},{"h":198,"pct":"5%"},{"h":204,"pct":"10%"},{"h":210,"pct":"15%"},{"h":216,"pct":"25%"},{"h":222,"pct":"5%"},{"h":228,"pct":"15%"},{"h":234,"pct":"15%"},{"h":240,"pct":"5%"},{"h":246,"pct":"5%"},{"h":252,"pct":"20%"},{"h":258,"pct":"20%"},{"h":264,"pct":"15%"},{"h":270,"pct":"10%"},{"h":276,"pct":"15%"},{"h":282,"pct":"20%"},{"h":288,"pct":"10%"},{"h":294,"pct":"20%"},{"h":300,"pct":"25%"},{"h":306,"pct":"20%"},{"h":312,"pct":"25%"},{"h":318,"pct":"10%"},{"h":324,"pct":"15%"},{"h":330,"pct":"10%"},{"h":336,"pct":"20%"},{"h":342,"pct":"25%"},{"h":348,"pct":"20%"},{"h":354,"pct":"20%"},{"h":360,"pct":"20%"},{"h":366,"pct":"25%"},{"h":372,"pct":"25%"},{"h":378,"pct":"15%"},{"h":384,"pct":"20%"}
],
"membres":[{"s":"01"},{"s":"02"},{"s":"03"},{"s":"04"},{"s":"05"},{"s":"06"},{"s":"07"},{"s":"08"},{"s":"09"},{"s":"10"},{"s":"11"},{"s":"12"},{"s":"13"},{"s":"14"},{"s":"15"},{"s":"16"},{"s":"17"},{"s":"18"},{"s":"19"},{"s":"20"}]
},
"layer":[
{"data":{"name":"t"},
"transform":[{"fold":["p1","p2","p3","p4","p5","p6","p7","p8","p9","p10","p11","p12","p13","p14","p15","p16","p17","p18","p19","p20"],"as":["s","v"]}],
"mark":{"type":"line","strokeWidth":1.2,"point":{"filled":true,"size":8,"shape":"diamond"}},
"encoding":{
"x":{"field":"h","type":"quantitative","scale":{"domain":[0,384]},"title":null,
"axis":{"values":[18,42,66,90,114,138,162,186,210,234,258,282,306,330,354,378],"labelExpr":"timeFormat(datetime(2012,0,12,6+datum.value),'%d/%m')","labelAngle":-90,"labelBaseline":"top","labelAlign":"right","labelPadding":2,"labelFlush":false,"labelOverlap":false,"grid":true,"ticks":false,"domainColor":"black","domainWidth":1.5}},
"y":{"field":"v","type":"quantitative","scale":{"domain":[-42.71,43]},
"axis":{"orient":"left","values":[-35,-30,-25,-20,-15,-10,-5,0,5,10,15,20,25,30,35,40],"grid":true,"ticks":false,"labelPadding":18,"domainColor":"black","domainWidth":1.5,"title":"(°C)","titleAngle":0,"titleX":-18,"titleY":611,"titleAlign":"center","titleColor":"black","titleFont":"DejaVu Sans Mono","titleFontSize":10,"titleFontWeight":"normal"}},
"color":{"field":"s","type":"nominal","scale":{"domain":["p1","p2","p3","p4","p5","p6","p7","p8","p9","p10","p11","p12","p13","p14","p15","p16","p17","p18","p19","p20"],"range":["#008080","#c0c000","#008000","#ff8000","#00ff00","#800080","#00ff80","#ff00ff","#80ff00","#0080ff","#8080ff","#80ff80","#8080ff","#e0b040","#80a800","#006080","#507080","#806070","#c0c0c0","#808080"]},"legend":null}}},
{"data":{"name":"p"},
"transform":[{"filter":{"field":"s","oneOf":["ctl","gfs"]}}],
"mark":{"type":"line","strokeWidth":3},
"encoding":{
"x":{"field":"h","type":"quantitative","scale":{"domain":[0,384]},"axis":null},
"y":{"field":"v","type":"quantitative","scale":{"domain":[-7.71,78]},"axis":null},
"color":{"field":"s","type":"nominal","scale":{"domain":["ctl","gfs"],"range":["#0000ff","#000000"]},"legend":null}}},
{"data":{"name":"p"},
"transform":[{"filter":"datum.s[0]=='p'"}],
"mark":{"type":"line","strokeWidth":1.2,"point":{"filled":true,"size":8,"shape":"diamond"}},
"encoding":{
"x":{"field":"h","type":"quantitative","scale":{"domain":[0,384]},"axis":null},
"y":{"field":"v","type":"quantitative","scale":{"domain":[-7.71,78]},
"axis":{"orient":"right","values":[0,5,10,15,20,25,30,35,40,45,50,55,60,65,70,75],"grid":false,"ticks":false,"labelPadding":18,"domainColor":"black","domainWidth":1.5,"title":"(mm)","titleAngle":0,"titleX":31,"titleY":611,"titleAlign":"center","titleColor":"black","titleFont":"DejaVu Sans Mono","titleFontSize":10,"titleFontWeight":"normal"}},
"color":{"field":"s","type":"nominal","scale":{"domain":["p1","p2","p3","p4","p5","p6","p7","p8","p9","p10","p11","p12","p13","p14","p15","p16","p17","p18","p19","p20"],"range":["#008080","#c0c000","#008000","#ff8000","#00ff00","#800080","#00ff80","#ff00ff","#80ff00","#0080ff","#8080ff","#80ff80","#8080ff","#e0b040","#80a800","#006080","#507080","#806070","#c0c0c0","#808080"]},"legend":null}}},
{"data":{"values":[{"label":"zero"}]},
"mark":{"type":"rule","color":"black","strokeWidth":1.3},
"encoding":{"y":{"datum":0,"scale":{"domain":[-42.71,43]},"axis":null}}},
{"data":{"values":[{"label":"zero"}]},
"mark":{"type":"rule","color":"black","strokeWidth":1.3},
"encoding":{"y":{"datum":0.29,"scale":{"domain":[-42.71,43]},"axis":null}}},
{"data":{"name":"t"},
"transform":[{"fold":["ctl","gfs"],"as":["s","v"]}],
"mark":{"type":"line","strokeWidth":3},
"encoding":{
"x":{"field":"h","type":"quantitative","scale":{"domain":[0,384]},"axis":null},
"y":{"field":"v","type":"quantitative","scale":{"domain":[-42.71,43]},"axis":null},
"color":{"field":"s","type":"nominal","scale":{"domain":["ctl","gfs"],"range":["#0000ff","#000000"]},
"legend":{"orient":"none","legendX":172,"legendY":631,"title":null,"symbolType":"stroke","symbolSize":961,"symbolStrokeWidth":4,"clipHeight":10,"rowPadding":0,"labelFont":"DejaVu Sans Mono","labelFontSize":10,"labelOffset":7,"labelExpr":"datum.value=='ctl'?'Run de contrôle':'Run GFS'"}}}},
{"data":{"name":"t"},
"transform":[{"fold":["moy"],"as":["s","v"]}],
"mark":{"type":"line","strokeWidth":4},
"encoding":{
"x":{"field":"h","type":"quantitative","scale":{"domain":[0,384]},"axis":null},
"y":{"field":"v","type":"quantitative","scale":{"domain":[-42.71,43]},"axis":null},
"color":{"field":"s","type":"nominal","scale":{"domain":["moy"],"range":["#ff0000"]},
"legend":{"orient":"none","legendX":-16,"legendY":648,"title":null,"symbolType":"stroke","symbolSize":961,"symbolStrokeWidth":4,"clipHeight":10,"labelFont":"DejaVu Sans Mono","labelFontSize":10,"labelOffset":6,"labelExpr":"'Moyenne des scénarios'"}}}},
{"data":{"name":"p"},
"transform":[{"filter":"datum.s=='moy'"}],
"mark":{"type":"line","strokeWidth":4,"color":"#ff0000"},
"encoding":{
"x":{"field":"h","type":"quantitative","scale":{"domain":[0,384]},"axis":null},
"y":{"field":"v","type":"quantitative","scale":{"domain":[-7.71,78]},"axis":null}}},
{"data":{"name":"neige"},
"mark":{"type":"bar","width":10,"color":"#ccf8ff"},
"encoding":{
"x":{"field":"h","type":"quantitative","scale":{"domain":[0,384]},"axis":null},
"y":{"datum":-39.5,"scale":{"domain":[-42.71,43]},"axis":null},"y2":{"datum":-40.3}}},
{"data":{"name":"neige"},
"mark":{"type":"point","filled":true,"size":110,"color":"#66c4ee","opacity":1},
"encoding":{
"x":{"field":"h","type":"quantitative","scale":{"domain":[0,384]},"axis":null},
"y":{"datum":-41.05,"scale":{"domain":[-42.71,43]},"axis":null}}},
{"data":{"name":"neige"},
"mark":{"type":"point","shape":"diamond","filled":true,"size":25,"color":"#a4def6","opacity":1},
"encoding":{
"x":{"field":"h","type":"quantitative","scale":{"domain":[0,384]},"axis":null},
"y":{"datum":-41.05,"scale":{"domain":[-42.71,43]},"axis":null}}},
{"data":{"name":"neige"},
"mark":{"type":"text","angle":270,"align":"left","baseline":"middle","font":"DejaVu Sans Mono","fontSize":8.5,"fontWeight":"bold","color":"#0000ff","dx":-1},
"encoding":{
"x":{"field":"h","type":"quantitative","scale":{"domain":[0,384]},"axis":null},
"y":{"datum":-40,"scale":{"domain":[-42.71,43]},"axis":null},"text":{"field":"pct"}}},
{"data":{"values":[{"label":"Précipitations"}]},
"mark":{"type":"text","align":"left","font":"DejaVu Sans Mono","fontSize":10,"color":"black"},
"encoding":{"x":{"datum":5.4,"scale":{"domain":[0,384]},"axis":null},"y":{"datum":-31.85,"scale":{"domain":[-42.71,43]},"axis":null},"text":{"field":"label"}}},
{"data":{"values":[{"label":"20 Perturbations"}]},
"mark":{"type":"text","align":"left","font":"DejaVu Sans Mono","fontSize":10,"color":"black"},
"encoding":{"x":{"datum":191.4,"scale":{"domain":[0,384]},"axis":null},"y":{"datum":-50.35,"scale":{"domain":[-42.71,43]},"axis":null},"text":{"field":"label"}}},
{"data":{"name":"membres"},
"mark":{"type":"bar"},
"encoding":{"x":{"field":"s","type":"nominal","scale":{"range":[420,640],"paddingInner":0,"paddingOuter":0},"axis":null},
"y":{"datum":-49.9,"scale":{"domain":[-42.71,43]},"axis":null},"y2":{"datum":-50.8},
"color":{"field":"s","type":"nominal","scale":{"range":["#008080","#c0c000","#008000","#ff8000","#00ff00","#800080","#00ff80","#ff00ff","#80ff00","#0080ff","#8080ff","#80ff80","#8080ff","#e0b040","#80a800","#006080","#507080","#806070","#c0c0c0","#808080"]},"legend":null}}},
{"data":{"name":"membres"},
"mark":{"type":"text","font":"DejaVu Sans Mono","fontSize":8,"color":"black"},
"encoding":{"x":{"field":"s","type":"nominal","scale":{"range":[420,640],"paddingInner":0,"paddingOuter":0},"axis":null},
"y":{"datum":-49,"scale":{"domain":[-42.71,43]},"axis":null},"text":{"field":"s"}}},
{"data":{"values":[{"label":"Ensemble GEFS du 12/01/2012 - 06h"}]},
"mark":{"type":"text","align":"left","font":"DejaVu Sans Mono","fontSize":10,"color":"black"},
"encoding":{"x":{"datum":239.4,"scale":{"domain":[0,384]},"axis":null},"y":{"datum":-53.15,"scale":{"domain":[-42.71,43]},"axis":null},"text":{"field":"label"}}},
{"data":{"values":[{"label":"Copyright 2012 Meteociel.fr"}]},
"mark":{"type":"text","align":"left","font":"DejaVu Sans Mono","fontSize":11.6,"fontWeight":"bold","color":"black"},
"encoding":{"x":{"datum":239.4,"scale":{"domain":[0,384]},"axis":null},"y":{"datum":-56,"scale":{"domain":[-42.71,43]},"axis":null},"text":{"field":"label"}}},
{"data":{"values":[{"label":"cadre"}]},
"mark":{"type":"rect","fillOpacity":0,"stroke":"black","strokeWidth":1.5},
"encoding":{"x":{"datum":-18,"scale":{"domain":[0,384]},"axis":null},"x2":{"datum":234},"y":{"datum":-52.43,"scale":{"domain":[-42.71,43]},"axis":null},"y2":{"datum":-56.8}}}
],
"resolve":{"scale":{"x":"independent","y":"independent","color":"independent"}},
"config":{"view":{"stroke":null},"font":"DejaVu Sans Mono","axis":{"labelFont":"DejaVu Sans Mono","labelFontSize":10,"labelColor":"black","gridColor":"#bbbbbb","gridWidth":1,"gridOpacity":1},"legend":{"labelColor":"black"}}
}
